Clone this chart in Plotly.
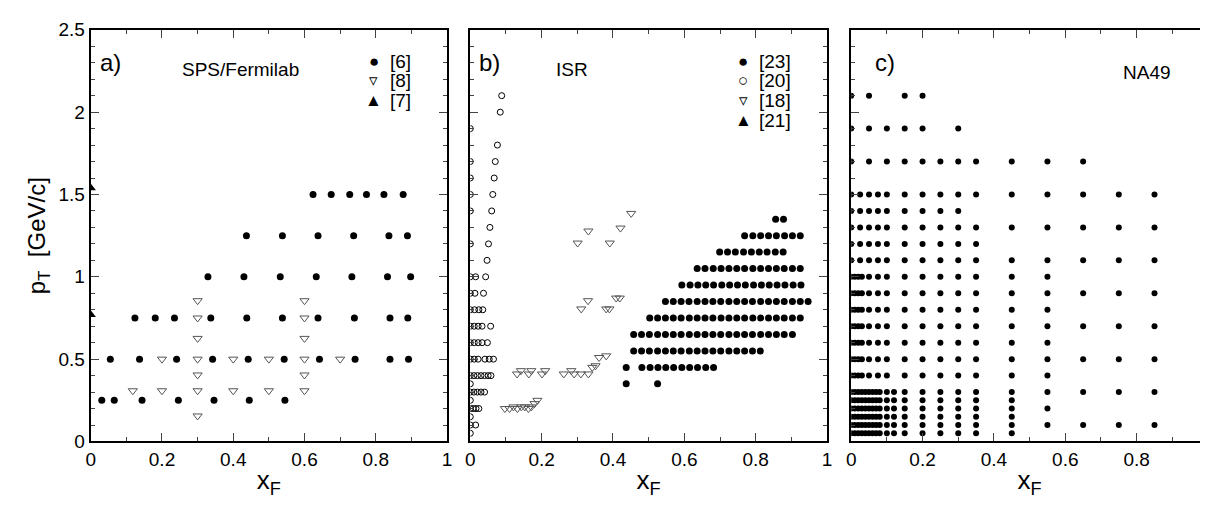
import plotly.graph_objects as go

# ---- panel a: SPS/Fermilab ----
a6_rows = {
    1.5: [0.624, 0.675, 0.727, 0.774, 0.823, 0.877],
    1.25: [0.437, 0.538, 0.638, 0.738, 0.837, 0.889],
    1.0: [0.329, 0.430, 0.532, 0.633, 0.733, 0.833, 0.898],
    0.75: [0.124, 0.181, 0.235, 0.337, 0.438, 0.538, 0.638, 0.740, 0.840, 0.890],
    0.5: [0.055, 0.137, 0.241, 0.342, 0.442, 0.543, 0.642, 0.742, 0.840, 0.892],
    0.25: [0.031, 0.066, 0.144, 0.246, 0.346, 0.445, 0.545],
}
a8_x = [0.3, 0.3, 0.3, 0.3, 0.3, 0.3, 0.3, 0.6, 0.6, 0.6, 0.6, 0.6, 0.6,
        0.2, 0.4, 0.5, 0.7, 0.118, 0.2, 0.4, 0.5]
a8_y = [0.855, 0.75, 0.626, 0.5, 0.404, 0.308, 0.155, 0.855, 0.75, 0.626, 0.5, 0.404, 0.308,
        0.5, 0.5, 0.5, 0.5, 0.308, 0.308, 0.308, 0.308]
a7_x = [0.0, 0.0]
a7_y = [1.54, 0.77]

# ---- panel b: ISR ----
b23_rows = {
    1.35: [0.856, 0.878],
    1.25: [0.769, 0.792, 0.814, 0.836, 0.858, 0.881, 0.903, 0.925],
    1.15: [0.699, 0.721, 0.743, 0.766, 0.788, 0.810, 0.832, 0.855, 0.877],
    1.05: [0.636, 0.658, 0.681, 0.703, 0.725, 0.747, 0.769, 0.792, 0.814, 0.836, 0.858, 0.880,
           0.903, 0.925],
    0.95: [0.593, 0.616, 0.638, 0.660, 0.682, 0.705, 0.727, 0.749, 0.771, 0.794, 0.816, 0.838,
           0.860, 0.882, 0.905, 0.927],
    0.85: [0.547, 0.569, 0.591, 0.613, 0.636, 0.658, 0.680, 0.702, 0.725, 0.747, 0.769, 0.791,
           0.814, 0.836, 0.858, 0.880, 0.903, 0.925, 0.947],
    0.75: [0.503, 0.525, 0.547, 0.569, 0.591, 0.614, 0.636, 0.658, 0.680, 0.703, 0.725, 0.747,
           0.769, 0.792, 0.814, 0.836, 0.858, 0.880, 0.903, 0.925],
    0.65: [0.458, 0.480, 0.502, 0.525, 0.547, 0.569, 0.591, 0.614, 0.636, 0.658, 0.680, 0.702,
           0.725, 0.747, 0.769, 0.791, 0.814, 0.836, 0.858, 0.880, 0.903],
    0.55: [0.458, 0.480, 0.502, 0.525, 0.547, 0.569, 0.591, 0.614, 0.636, 0.658, 0.680, 0.702,
           0.725, 0.747, 0.769, 0.791, 0.813],
    0.45: [0.437, 0.481, 0.504, 0.526, 0.548, 0.570, 0.593, 0.615, 0.637, 0.660, 0.682],
    0.35: [0.437, 0.525],
}
b20_rows = {
    2.1: [0.088],
    2.0: [0.084],
    1.9: [0.0],
    1.8: [0.076],
    1.7: [0.0, 0.070],
    1.6: [0.0, 0.067],
    1.5: [0.0, 0.063],
    1.4: [0.0, 0.060],
    1.3: [0.055],
    1.2: [0.0, 0.051],
    1.1: [0.047],
    1.0: [0.0, 0.015, 0.043],
    0.9: [0.0, 0.013, 0.037],
    0.8: [0.0, 0.012, 0.024, 0.035],
    0.7: [0.0, 0.011, 0.022, 0.033, 0.057],
    0.6: [0.0, 0.011, 0.022, 0.033, 0.048],
    0.5: [0.0, 0.011, 0.022, 0.041, 0.053, 0.065],
    0.4: [0.0, 0.010, 0.020, 0.030, 0.040, 0.050, 0.058],
    0.3: [0.0, 0.010, 0.020, 0.030, 0.040],
    0.2: [0.0, 0.008, 0.016, 0.024],
    0.1: [0.0, 0.015],
    0.35: [0.0], 0.25: [0.0], 0.15: [0.0], 0.05: [0.0],
}
b18_x = [0.097, 0.110, 0.121, 0.132, 0.143, 0.153, 0.163, 0.171, 0.180, 0.188,
         0.131, 0.164, 0.201, 0.262, 0.291, 0.310, 0.331, 0.142, 0.171, 0.210, 0.283,
         0.342, 0.351, 0.361, 0.381,
         0.311, 0.381, 0.390, 0.330, 0.409, 0.419,
         0.301, 0.391, 0.331, 0.421, 0.451]
b18_y = [0.20, 0.20, 0.21, 0.20, 0.21, 0.21, 0.20, 0.21, 0.23, 0.25,
         0.41, 0.41, 0.41, 0.41, 0.41, 0.41, 0.41, 0.43, 0.43, 0.43, 0.43,
         0.45, 0.46, 0.51, 0.52,
         0.805, 0.805, 0.805, 0.855, 0.871, 0.871,
         1.205, 1.205, 1.278, 1.296, 1.385]

# ---- panel c: NA49 ----
c_mid = [0.15, 0.2, 0.25, 0.3, 0.35]
c_dense = [0.0, 0.01, 0.02, 0.03, 0.05, 0.075, 0.1]
c_vdense = [0.0, 0.01, 0.02, 0.03, 0.04, 0.05, 0.06, 0.07, 0.08, 0.1, 0.12]
c_five = [0.0, 0.025, 0.05, 0.075, 0.1]
c_rows = {
    2.1: [0.0, 0.05, 0.15, 0.2],
    1.9: [0.0, 0.05, 0.1, 0.15, 0.2, 0.3],
    1.7: [0.0, 0.05, 0.1, 0.15, 0.2, 0.25, 0.3, 0.35, 0.45, 0.55, 0.65],
    1.5: c_five + c_mid + [0.45, 0.55, 0.65, 0.75, 0.85],
    1.4: c_five + [0.15, 0.2, 0.25, 0.3],
    1.3: c_five + c_mid + [0.45, 0.55, 0.65, 0.75, 0.85],
    1.2: c_five + c_mid,
    1.1: c_five + c_mid + [0.45, 0.55, 0.65, 0.75, 0.85],
    1.0: c_dense + c_mid + [0.45, 0.55],
    0.9: c_dense + c_mid + [0.45, 0.55, 0.65, 0.75, 0.85],
    0.8: c_dense + c_mid + [0.45, 0.55],
    0.7: c_dense + c_mid + [0.45, 0.55, 0.65, 0.75, 0.85],
    0.6: c_dense + c_mid + [0.45, 0.55],
    0.5: c_dense + c_mid + [0.45, 0.55, 0.65, 0.75, 0.85],
    0.4: c_dense + c_mid + [0.45, 0.55],
    0.3: c_vdense + c_mid + [0.45, 0.55, 0.65, 0.75, 0.85],
    0.25: c_vdense + c_mid + [0.45],
    0.2: c_vdense + c_mid + [0.45, 0.55],
    0.15: c_vdense + c_mid + [0.45],
    0.1: c_vdense + c_mid + [0.45, 0.55, 0.65, 0.75, 0.85],
    0.05: c_vdense + c_mid + [0.45],
}


def flatten(rows):
    xs, ys = [], []
    for pt, row in rows.items():
        xs += row
        ys += [pt] * len(row)
    return xs, ys


font = "Arial, Liberation Sans, sans-serif"
dot = dict(symbol="circle", size=7, color="black")
tri_open = dict(symbol="triangle-down-open", size=8, color="#555555", line=dict(width=1))
tri_full = dict(symbol="triangle-up", size=9, color="black")
circ_open = dict(symbol="circle-open", size=6, color="black", line=dict(width=1))

fig = go.Figure()
x, y = flatten(a6_rows)
fig.add_trace(go.Scatter(x=x, y=y, mode="markers", marker=dot, xaxis="x", yaxis="y"))
fig.add_trace(go.Scatter(x=a8_x, y=a8_y, mode="markers", marker=tri_open, xaxis="x", yaxis="y"))
fig.add_trace(go.Scatter(x=a7_x, y=a7_y, mode="markers", marker=tri_full, xaxis="x", yaxis="y"))

x, y = flatten(b20_rows)
fig.add_trace(go.Scatter(x=x, y=y, mode="markers", marker=circ_open, xaxis="x2", yaxis="y2"))
x, y = flatten(b23_rows)
fig.add_trace(go.Scatter(x=x, y=y, mode="markers", marker=dot, xaxis="x2", yaxis="y2"))
fig.add_trace(go.Scatter(x=b18_x, y=b18_y, mode="markers", marker=tri_open, xaxis="x2", yaxis="y2"))

x, y = flatten(c_rows)
fig.add_trace(go.Scatter(x=x, y=y, mode="markers", marker=dict(dot, size=6), xaxis="x3", yaxis="y3"))

ydom = [0.145, 0.957]
xdoms = [[0.0685, 0.3634], [0.3827, 0.678], [0.698, 0.9934]]
common_x = dict(range=[0, 1], dtick=0.2, ticks="inside", ticklen=8, mirror="allticks",
                showline=True, linecolor="black", linewidth=2, showgrid=False, zeroline=False,
                automargin=False,
                tickfont=dict(size=19, family=font, color="black"),
                minor=dict(dtick=0.1, ticks="inside", ticklen=4),
                title=dict(text="x<sub>F</sub>", font=dict(size=26, family=font, color="black"),
                           standoff=2))
common_y = dict(range=[0, 2.5], dtick=0.5, ticks="inside", ticklen=8, mirror="allticks",
                showline=True, linecolor="black", linewidth=2, showgrid=False, zeroline=False,
                automargin=False,
                tickfont=dict(size=19, family=font, color="black"),
                minor=dict(dtick=0.1, ticks="inside", ticklen=4))

layout = dict(width=1208, height=507, margin=dict(l=0, r=0, t=0, b=0),
              plot_bgcolor="white", paper_bgcolor="white", showlegend=False)
for i in range(3):
    sx = "" if i == 0 else str(i + 1)
    layout["xaxis" + sx] = dict(common_x, domain=xdoms[i], anchor="y" + sx)
    ya = dict(common_y, domain=ydom, anchor="x" + sx)
    if i > 0:
        ya["showticklabels"] = False
    else:
        ya["title"] = dict(text="p<sub>T</sub>  [GeV/c]",
                           font=dict(size=24, family=font, color="black"), standoff=6)
    layout["yaxis" + sx] = ya
fig.update_layout(**layout)


def note(text, x, y, ref, size=19, anchor="left"):
    fig.add_annotation(text=text, x=x, y=y, xref="x" + ref, yref="y" + ref, showarrow=False,
                       xanchor=anchor, font=dict(size=size, family=font, color="black"))


def legend_row(symbol, label, x, y, ref):
    note(symbol, x, y, ref, 17, "center")
    note(label, x + 0.04, y, ref)


note("a)", 0.02, 2.3, "", 24)
note("SPS/Fermilab", 0.42, 2.26, "", 19, "center")
legend_row("●", "[6]", 0.795, 2.31, "")
legend_row("▿", "[8]", 0.795, 2.19, "")
legend_row("▲", "[7]", 0.795, 2.07, "")

note("b)", 0.02, 2.3, "2", 24)
note("ISR", 0.285, 2.26, "2", 19, "center")
legend_row("●", "[23]", 0.765, 2.31, "2")
legend_row("○", "[20]", 0.765, 2.19, "2")
legend_row("▿", "[18]", 0.765, 2.07, "2")
legend_row("▲", "[21]", 0.765, 1.95, "2")

note("c)", 0.06, 2.3, "3", 24)
note("NA49", 0.83, 2.24, "3", 19, "center")

fig.write_html("out.html")
